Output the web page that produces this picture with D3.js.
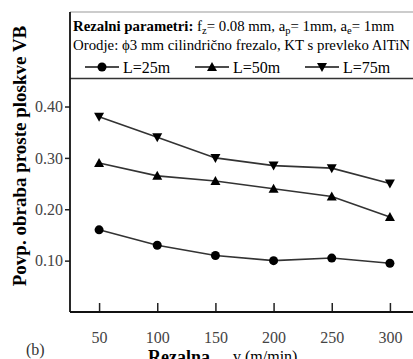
<!DOCTYPE html>
<html>
<head>
<meta charset="utf-8">
<script src="https://cdn.jsdelivr.net/npm/d3@7"></script>
<style>
  body { margin: 0; background: #fff; }
  svg { display: block; }
  svg text { font-family: "Liberation Serif", "Times New Roman", Times, serif; }
</style>
</head>
<body>
<div id="canvas"></div>
<script>
/* global d3 */

var width = 413, height = 359
var margin = {top: 12, right: -6, bottom: 47, left: 70}
const FONT = '"Liberation Serif", "Times New Roman", Times, serif'

// cutting speed v (m/min)
const speeds = [50, 100, 150, 200, 250, 300]
const wear25 = [0.16, 0.13, 0.11, 0.10, 0.105, 0.095]
const wear50 = [0.29, 0.265, 0.255, 0.24, 0.225, 0.185]
const wear75 = [0.38, 0.34, 0.30, 0.285, 0.28, 0.25]
const seriesNames = ['L=25m', 'L=50m', 'L=75m']
const xTicks = [50, 100, 150, 200, 250, 300]
const yTicks = [0.10, 0.20, 0.30, 0.40]

var svg = d3.select('#canvas')
  .append('svg')
  .attr('width', width)
  .attr('height', height)
  .style('font-family', FONT)

const x = d3.scaleLinear()
  .domain([25, 325])
  .range([margin.left, width - margin.right])

const y = d3.scaleLinear()
  .domain([0, 0.584])
  .range([height - margin.bottom, margin.top])

const x0 = margin.left, y0 = height - margin.bottom

// frame
svg.append('line')
  .attr('x1', x0).attr('x2', width + 5)
  .attr('y1', margin.top).attr('y2', margin.top)
  .attr('stroke', '#999').attr('stroke-width', 1.2)
svg.append('line')
  .attr('x1', x0).attr('x2', width + 5)
  .attr('y1', 78.5).attr('y2', 78.5)
  .attr('stroke', '#333').attr('stroke-width', 1.5)

// axes
const xAxis = svg.append('g')
  .attr('transform', 'translate(0,' + y0 + ')')
  .call(d3.axisBottom(x).tickValues(xTicks).tickSizeInner(-9).tickSizeOuter(0).tickPadding(20).tickFormat(d3.format('d')))
xAxis.attr('font-family', null).attr('font-size', 16)
xAxis.select('.domain').remove()
xAxis.selectAll('line').attr('stroke', '#222').attr('stroke-width', 1.5)
xAxis.selectAll('text').attr('fill', '#444')

const yAxis = svg.append('g')
  .attr('transform', 'translate(' + x0 + ',0)')
  .call(d3.axisLeft(y).tickValues(yTicks).tickSize(5).tickPadding(2).tickFormat(d3.format('.2f')))
yAxis.attr('font-family', null).attr('font-size', 16)
yAxis.select('.domain').remove()
yAxis.selectAll('line').attr('stroke', '#222').attr('stroke-width', 1.5)
yAxis.selectAll('text').attr('fill', '#444')

svg.append('line')
  .attr('x1', x0).attr('x2', width + 5)
  .attr('y1', y0).attr('y2', y0)
  .attr('stroke', '#111').attr('stroke-width', 2)
svg.append('line')
  .attr('x1', x0).attr('x2', x0)
  .attr('y1', margin.top).attr('y2', y0)
  .attr('stroke', '#111').attr('stroke-width', 1.8)

// data lines
const allSeries = [wear25, wear50, wear75]
const symbols = ['circle', 'up', 'down']

function drawMarker (g, type, cx, cy) {
  if (type === 'circle') {
    g.append('circle').attr('cx', cx).attr('cy', cy).attr('r', 4.5).attr('fill', '#000')
  } else if (type === 'up') {
    g.append('path')
      .attr('d', `M${cx},${cy - 5}L${cx + 5},${cy + 4}L${cx - 5},${cy + 4}Z`)
      .attr('fill', '#000')
  } else {
    g.append('path')
      .attr('d', `M${cx},${cy + 5}L${cx + 5},${cy - 4}L${cx - 5},${cy - 4}Z`)
      .attr('fill', '#000')
  }
}

const line = d3.line()
  .x((d, i) => x(speeds[i]))
  .y(d => y(d))

allSeries.forEach((vals, si) => {
  const g = svg.append('g')
  g.append('path')
    .attr('d', line(vals))
    .attr('fill', 'none')
    .attr('stroke', '#333')
    .attr('stroke-width', 1.6)
  vals.forEach((v, i) => drawMarker(g, symbols[si], x(speeds[i]), y(v)))
})

// header text
const t1 = svg.append('text').attr('x', 73).attr('y', 31).attr('font-size', '14.8px').attr('fill', '#000')
t1.append('tspan').attr('font-weight', 'bold').text('Rezalni parametri: ')
t1.append('tspan').text('f')
t1.append('tspan').attr('font-size', '10.5px').attr('dy', 3).text('z')
t1.append('tspan').attr('dy', -3).text('= 0.08 mm, a')
t1.append('tspan').attr('font-size', '10.5px').attr('dy', 3).text('p')
t1.append('tspan').attr('dy', -3).text('= 1mm, a')
t1.append('tspan').attr('font-size', '10.5px').attr('dy', 3).text('e')
t1.append('tspan').attr('dy', -3).text('= 1mm')

svg.append('text').attr('x', 73).attr('y', 50).attr('font-size', '14.8px').attr('fill', '#000')
  .attr('textLength', 337).attr('lengthAdjust', 'spacing')
  .text('Orodje: ϕ3 mm cilindrično frezalo, KT s prevleko AlTiN')

// legend
const legX = [85, 195, 305]
seriesNames.forEach((name, i) => {
  const g = svg.append('g')
  g.append('line').attr('x1', legX[i]).attr('x2', legX[i] + 34)
    .attr('y1', 67).attr('y2', 67).attr('stroke', '#111').attr('stroke-width', 1.6)
  drawMarker(g, symbols[i], legX[i] + 17, 67)
  g.append('text').attr('x', legX[i] + 38).attr('y', 73)
    .attr('font-size', '16px').attr('fill', '#000').text(name)
})

// axis titles
svg.append('text')
  .attr('transform', 'translate(26,156) rotate(-90)')
  .attr('text-anchor', 'middle')
  .attr('font-size', '19px')
  .attr('font-weight', 'bold')
  .text('Povp. obraba proste ploskve VB')

svg.append('text').attr('x', 148).attr('y', 363)
  .attr('font-size', '18px').attr('font-weight', 'bold').text('Rezalna')
svg.append('text').attr('x', 233).attr('y', 362)
  .attr('font-size', '16px').text('v (m/min)')

svg.append('text').attr('x', 26).attr('y', 355)
  .attr('font-size', '16px').attr('fill', '#333').text('(b)')
</script>
</body>
</html>
